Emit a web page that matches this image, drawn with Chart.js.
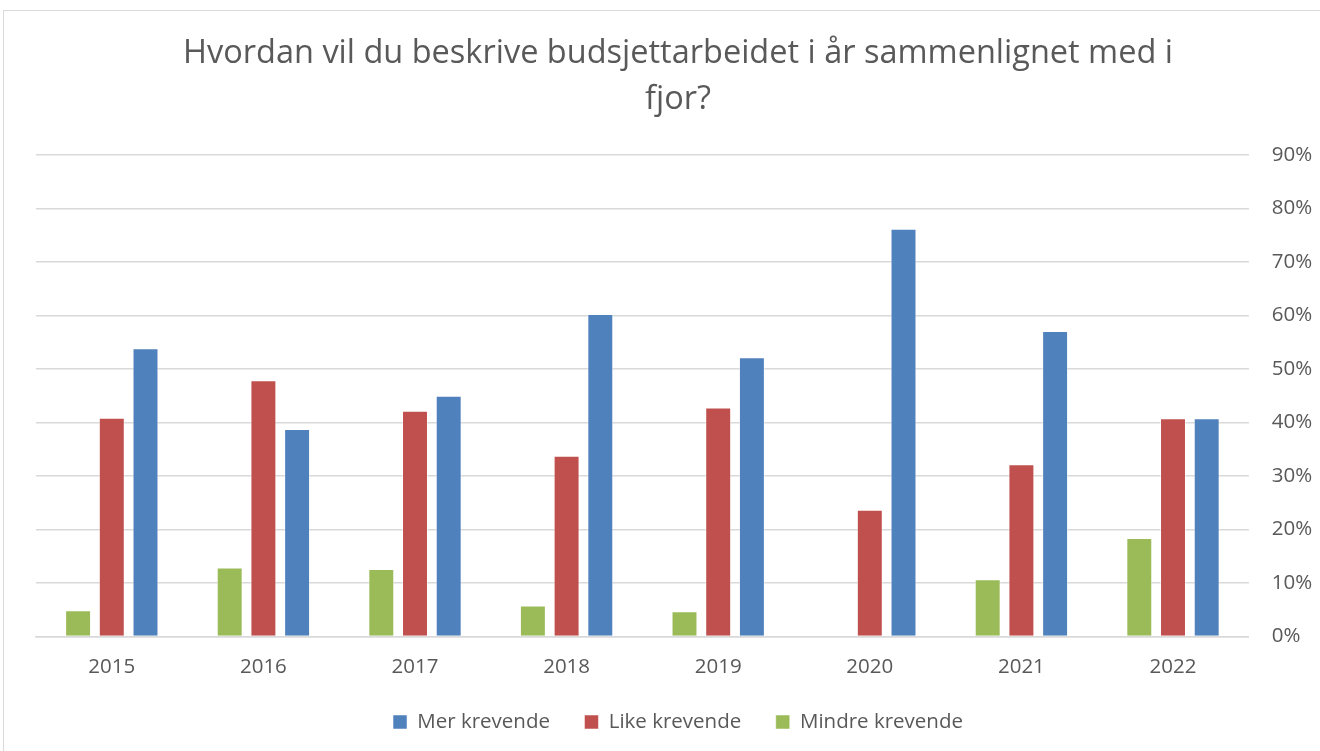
<!DOCTYPE html>
<html>
<head>
<meta charset="utf-8">
<script src="https://cdn.jsdelivr.net/npm/chart.js@4/dist/chart.umd.min.js"></script>
<style>
  html, body { margin: 0; padding: 0; background: #fff; }
  #frame { position: absolute; left: 3px; top: 10px; width: 1330px; height: 760px; border: 1px solid #d9d9d9; box-sizing: border-box; }
  #wrap { position: absolute; left: 0; top: 0; width: 1320px; height: 751px; }
</style>
</head>
<body>
<div id="frame"></div>
<div id="wrap"><canvas id="c" width="1320" height="751"></canvas></div>
<script>
const categories = ['2015', '2016', '2017', '2018', '2019', '2020', '2021', '2022'];
const mindreKrevende = [4.9, 12.9, 12.6, 5.8, 4.7, 0, 10.7, 18.4];
const likeKrevende = [40.9, 47.9, 42.2, 33.8, 42.8, 23.7, 32.2, 40.8];
const merKrevende = [53.9, 38.8, 45.0, 60.3, 52.2, 76.2, 57.1, 40.8];
const titleLines = ['Hvordan vil du beskrive budsjettarbeidet i år sammenlignet med i', 'fjor?'];

const FONT = '"Open Sans"';
const TXT = '#595959';

new Chart(document.getElementById('c'), {
  type: 'bar',
  data: {
    labels: categories,
    datasets: [
      { label: 'Mindre krevende', data: mindreKrevende, backgroundColor: '#9BBB59', borderColor: 'rgba(255,255,255,0.5)', borderWidth: 1 },
      { label: 'Like krevende', data: likeKrevende, backgroundColor: '#C0504D', borderColor: 'rgba(255,255,255,0.5)', borderWidth: 1 },
      { label: 'Mer krevende', data: merKrevende, backgroundColor: '#4F81BD', borderColor: 'rgba(255,255,255,0.5)', borderWidth: 1 }
    ]
  },
  options: {
    responsive: false,
    animation: false,
    devicePixelRatio: 1,
    categoryPercentage: 0.667,
    barPercentage: 0.77,
    layout: { padding: { left: 36, right: 0, top: 31, bottom: 8.75 } },
    plugins: {
      title: {
        display: true,
        text: titleLines,
        color: TXT,
        font: { family: FONT, size: 32.5, weight: 'normal', lineHeight: 1.4 },
        padding: { top: 0, bottom: 33 }
      },
      legend: {
        position: 'bottom',
        reverse: true,
        labels: {
          color: TXT,
          font: { family: FONT, size: 20.5 },
          boxWidth: 14,
          boxHeight: 14,
          padding: 34.5
        }
      },
      tooltip: { enabled: false }
    },
    scales: {
      x: {
        grid: { display: false, drawTicks: false },
        border: { display: true, color: '#d9d9d9', width: 1.5 },
        ticks: { color: TXT, font: { family: FONT, size: 20.5 }, padding: 18.2, maxRotation: 0 },
        afterFit: s => { s.height = 40.75; }
      },
      y: {
        position: 'right',
        min: 0,
        max: 90,
        grid: { color: '#d9d9d9', lineWidth: 1.5, drawTicks: false },
        border: { display: false },
        ticks: {
          stepSize: 10,
          color: TXT,
          font: { family: FONT, size: 20.5 },
          padding: 23,
          callback: v => v + '%'
        },
        afterFit: s => { s.width = 71.2; }
      }
    }
  }
});
</script>
</body>
</html>
